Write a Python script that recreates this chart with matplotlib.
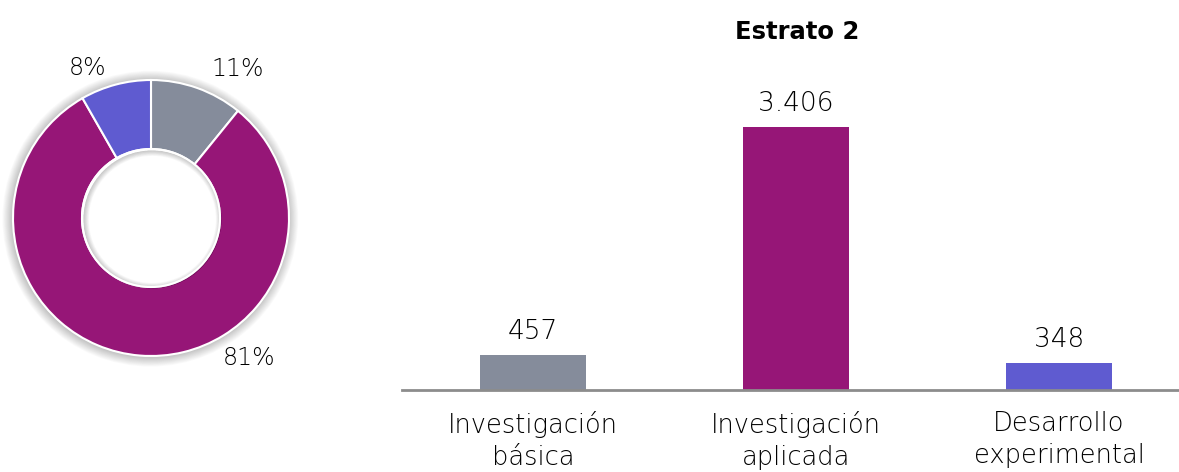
import matplotlib
matplotlib.use("Agg")
import matplotlib.pyplot as plt
from matplotlib.patches import Wedge, Circle
import numpy as np

categories = ["Investigación\nbásica", "Investigación\naplicada", "Desarrollo\nexperimental"]
values = [457, 3406, 348]
value_labels = ["457", "3.406", "348"]
pct_labels = ["11%", "81%", "8%"]
colors = ["#858C9B", "#961677", "#5F5BD0"]
title = "Estrato 2"

W, H = 1179, 472
fig = plt.figure(figsize=(W / 100, H / 100), dpi=100)
FONT = "DejaVu Sans"
TXT = "black"

# ---- Donut ----
cx, cy, R = 151, 218, 138
lim = 1.3
side = 2 * lim * R
axp = fig.add_axes([(cx - side / 2) / W, (H - cy - side / 2) / H, side / W, side / H])

# soft shadow
for i in range(12):
    r = 1.0 + 0.006 * (i + 1)
    axp.add_patch(Circle((-0.005, -0.005), r, color="black", alpha=0.018, lw=0, zorder=0))

wedges, _ = axp.pie(values, colors=colors, startangle=90, counterclock=False,
                    radius=1.0, wedgeprops=dict(width=0.5, edgecolor="white", linewidth=1.5))
for w in wedges:
    w.set_zorder(2)
axp.add_patch(Circle((0, 0), 0.5, color="white", lw=0, zorder=3))
for i in range(8):
    axp.add_patch(Wedge((0.01, -0.01), 0.5, 0, 360, width=0.005 * (i + 1), color="black",
                        alpha=0.028, lw=0, zorder=3))
axp.add_patch(Circle((0, 0), 0.5, fill=False, edgecolor="white", lw=1.5, zorder=5))
axp.set_xlim(-lim, lim)
axp.set_ylim(-lim, lim)
axp.set_aspect("equal")
axp.axis("off")

# label positions (angle deg, radius) - layout
label_pos = [(60, 1.25), (-55, 1.24), (113, 1.18)]
for txt, (ang, rad) in zip(pct_labels, label_pos):
    a = np.deg2rad(ang)
    axp.text(rad * np.cos(a), rad * np.sin(a), txt, ha="center", va="center",
             fontsize=17, family=FONT, weight="light", color=TXT, zorder=6)

# ---- Bars ----
spacing = 263
x0 = 533
left = x0 - 0.5 * spacing
ax_w = 3 * spacing
bottom = H - 390
ymax = 4000
ax_h = ymax * 263 / 3406
ax = fig.add_axes([left / W, bottom / H, ax_w / W, ax_h / H])
x = np.arange(len(values))
bars = ax.bar(x, values, width=0.40, color=colors)
ax.set_xlim(-0.5, 2.5)
ax.set_ylim(0, ymax)
for s in ["top", "right", "left"]:
    ax.spines[s].set_visible(False)
ax.spines["bottom"].set_color("#8C8C8C")
ax.spines["bottom"].set_linewidth(2)
ax.set_yticks([])
ax.set_xticks(x)
ax.set_xticklabels(categories, fontsize=18.5, family=FONT, weight="light", color=TXT,
                   linespacing=1.38)
ax.tick_params(axis="x", length=0, pad=15)
for xi, v, lab in zip(x, values, value_labels):
    ax.annotate(lab, (xi, v), xytext=(0, 8), textcoords="offset points",
                ha="center", va="bottom", fontsize=19, family=FONT, weight="light", color=TXT)
fig.text(797 / W, 1 - 32 / H, title, ha="center", va="center", fontsize=17.5,
         fontweight="bold", family=FONT, color="black")

fig.savefig("out.png", dpi=100)
